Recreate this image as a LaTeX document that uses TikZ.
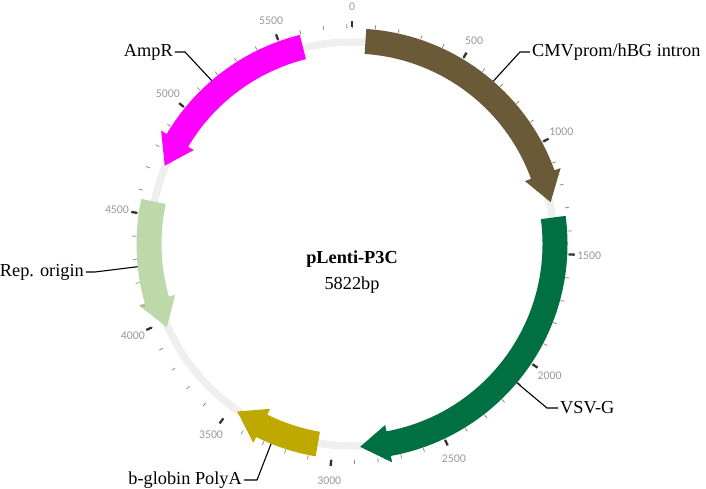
\documentclass[tikz,border=0pt]{standalone}
\usepackage{fontspec}
\setmainfont{Liberation Serif}
\newfontfamily\tickfont{Carlito}
\definecolor{cmvbrown}{HTML}{6B5A38}
\definecolor{vsvgreen}{HTML}{007042}
\definecolor{polyaolive}{HTML}{BFA900}
\definecolor{repgreen}{HTML}{BDD9A9}
\definecolor{ampmagenta}{HTML}{FF00FF}
\definecolor{bbgrey}{HTML}{EFEFEF}
\definecolor{majorgrey}{HTML}{333333}
\definecolor{minorgrey}{HTML}{8C8C8C}
\definecolor{labelgrey}{HTML}{999999}
\tikzset{
  backbone/.style={draw=bbgrey, line width=7.5pt},
  featlabel/.style={font=\fontsize{18.3}{22}\selectfont, inner sep=2pt},
  leader/.style={draw=black, line width=1.1pt},
  minortick/.style={draw=minorgrey, line width=0.8pt},
  majortick/.style={draw=majorgrey, line width=2.3pt},
  ticklabel/.style={font=\tickfont\fontsize{11.8}{13}\selectfont, text=labelgrey, inner sep=0pt},
}
\begin{document}
\begin{tikzpicture}[x=1pt,y=1pt]
	\useasboundingbox (-352,-245) rectangle (354,244);
	\coordinate (centre) at (0,0);
	\draw[backbone] (centre) circle[radius=202];
	\fill[cmvbrown] (86.2:215.5) arc[start angle=86.2, end angle=20.0, radius=215.5] -- (20.0:222) -- (11.9:203) -- (20.0:184) -- (20.0:190.5) arc[start angle=20.0, end angle=86.2, radius=190.5] -- cycle;
	\fill[vsvgreen] (7.5:215.5) arc[start angle=7.5, end angle=-79.6, radius=215.5] -- (-79.6:222) -- (-87.7:203) -- (-79.6:184) -- (-79.6:190.5) arc[start angle=-79.6, end angle=7.5, radius=190.5] -- cycle;
	\fill[polyaolive] (-99.7:215.5) arc[start angle=-99.7, end angle=-116.4, radius=215.5] -- (-116.4:222) -- (-124.4:203) -- (-116.4:184) -- (-116.4:190.5) arc[start angle=-116.4, end angle=-99.7, radius=190.5] -- cycle;
	\fill[repgreen] (-192.1:215.5) arc[start angle=-192.1, end angle=-164.0, radius=215.5] -- (-164.0:222) -- (-155.8:203) -- (-164.0:184) -- (-164.0:190.5) arc[start angle=-164.0, end angle=-192.1, radius=190.5] -- cycle;
	\fill[ampmagenta] (-256.0:215.5) arc[start angle=-256.0, end angle=-210.7, radius=215.5] -- (-210.7:222) -- (-202.7:203) -- (-210.7:184) -- (-210.7:190.5) arc[start angle=-210.7, end angle=-256.0, radius=190.5] -- cycle;
	\foreach \i in {0,...,58} {
		\pgfmathsetmacro\ang{90-\i*100/5822*360}
		\draw[minortick] (\ang:216) -- (\ang:220);
	}
	\foreach \b in {0,500,...,5500} {
		\pgfmathsetmacro\ang{90-\b/5822*360}
		\draw[majortick] (\ang:217) -- (\ang:223);
		\node[ticklabel] (t\b) at (\ang:237.5) {\b};
	}
	\node[font=\fontsize{18.3}{22}\selectfont\bfseries, anchor=base] (name) at (0,-20) {pLenti-P3C};
	\node[font=\fontsize{18.3}{22}\selectfont, anchor=base] (size) at (0,-46) {5822bp};
	\coordinate (cmvmid) at (49.05:215.5);
	\coordinate (cmvelbow) at (168,192);
	\node[featlabel, anchor=west] (cmvlab) at (178,192) {CMVprom/hBG intron};
	\draw[leader] (cmvmid) -- (cmvelbow) -- (cmvlab.west);
	\coordinate (vsvmid) at (-40.1:215.5);
	\coordinate (vsvelbow) at (195,-164);
	\node[featlabel, anchor=west] (vsvlab) at (206,-164) {VSV-G};
	\draw[leader] (vsvmid) -- (vsvelbow) -- (vsvlab.west);
	\coordinate (polyamid) at (-112.05:215.5);
	\coordinate (polyaelbow) at (-95,-236);
	\node[featlabel, anchor=east] (polyalab) at (-108,-236) {b-globin PolyA};
	\draw[leader] (polyamid) -- (polyaelbow) -- (polyalab.east);
	\coordinate (repmid) at (-173.95:215.5);
	\coordinate (repelbow) at (-257,-28);
	\node[featlabel, anchor=east] (replab) at (-266,-28) {Rep. origin};
	\draw[leader] (repmid) -- (repelbow) -- (replab.east);
	\coordinate (ampmid) at (-229.35:215.5);
	\coordinate (ampelbow) at (-167,192);
	\node[featlabel, anchor=east] (amplab) at (-177,192) {AmpR};
	\draw[leader] (ampmid) -- (ampelbow) -- (amplab.east);
\end{tikzpicture}
\end{document}
